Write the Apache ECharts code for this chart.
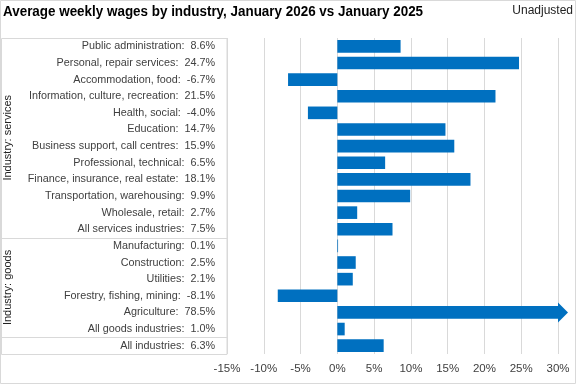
<!DOCTYPE html>
<html><head><meta charset="utf-8">
<script src="https://cdn.jsdelivr.net/npm/echarts@6/dist/echarts.min.js"></script>
<style>html,body{margin:0;padding:0;background:#fff}#c{width:576px;height:384px}</style>
</head><body><div id="c"></div>
<script>
const categories = ["Public administration","Personal, repair services","Accommodation, food","Information, culture, recreation","Health, social","Education","Business support, call centres","Professional, technical","Finance, insurance, real estate","Transportation, warehousing","Wholesale, retail","All services industries","Manufacturing","Construction","Utilities","Forestry, fishing, mining","Agriculture","All goods industries","All industries"];
const values = [8.6,24.7,-6.7,21.5,-4.0,14.7,15.9,6.5,18.1,9.9,2.7,7.5,0.1,2.5,2.1,-8.1,78.5,1.0,6.3];
const groups = [{name:"Industry: services", from:0, to:11},{name:"Industry: goods", from:12, to:17},{name:"", from:18, to:18}];
const xMin = -15, xMax = 30, xStep = 5;
const title = "Average weekly wages by industry, January 2026 vs January 2025";
const note = "Unadjusted";

const chart = echarts.init(document.getElementById('c'), null, {renderer:'canvas'});
const shown = values.map(v => Math.min(v, xMax));
const overflow = [];
values.forEach((v,i)=>{ if (v > xMax) overflow.push({coord:[xMax, categories[i]]}); });
const labelFont = "'Liberation Sans', Arial, sans-serif";
chart.setOption({
  animation:false,
  grid:{left:227,right:18,top:38,bottom:30,containLabel:false},
  xAxis:{type:'value',min:xMin,max:xMax,interval:xStep,
    axisLine:{show:false},axisTick:{show:false},
    axisLabel:{formatter:'{value}%',fontFamily:labelFont,fontSize:11.5,color:'#404040',margin:9},
    splitLine:{show:true,lineStyle:{color:'#d9d9d9',width:1}}},
  yAxis:{type:'category',data:categories,inverse:true,
    axisLine:{show:false},axisTick:{show:false},
    axisLabel:{fontFamily:labelFont,fontSize:10.8,color:'#404040',margin:12,
      formatter:(v,i)=> v + ':  ' + values[i].toFixed(1) + '%'}},
  series:[{type:'bar',data:shown,barCategoryGap:'24%',itemStyle:{color:'#0070C0'},
    markPoint:{silent:true,symbol:'triangle',symbolRotate:-90,symbolSize:[20,10],symbolOffset:[5,0],
      itemStyle:{color:'#0070C0'},label:{show:false},data:overflow}}]
});

// left label box
const n = categories.length;
const py = i => chart.convertToPixel({yAxisIndex:0}, categories[i]);
const step = py(1)-py(0);
const topY = py(0)-step/2, botY = py(n-1)+step/2;
const boxR = chart.convertToPixel({xAxisIndex:0}, xMin);
const g = [];
g.push({type:'rect',shape:{x:0.5,y:0.5,width:575,height:383},style:{fill:null,stroke:'#d9d9d9',lineWidth:1},silent:true});
g.push({type:'text',x:3,y:11.5,scaleX:0.866,style:{text:title,fontFamily:labelFont,fontWeight:'bold',fontSize:15.5,fill:'#000',align:'left',verticalAlign:'middle'},silent:true});
g.push({type:'text',x:573,y:11,style:{text:note,fontFamily:labelFont,fontSize:12,fill:'#222',align:'right',verticalAlign:'middle'},silent:true});
g.push({type:'rect',shape:{x:1.5,y:Math.round(topY)+0.5,width:Math.round(boxR)-1.5,height:Math.round(botY-topY)},style:{fill:null,stroke:'#d9d9d9',lineWidth:1},silent:true});
groups.forEach((gr,k)=>{
  if (k>0){ const y = Math.round(py(gr.from)-step/2)+0.5;
    g.push({type:'line',shape:{x1:1.5,y1:y,x2:boxR,y2:y},style:{stroke:'#d9d9d9',lineWidth:1},silent:true}); }
  if (gr.name){ const cy = (py(gr.from)+py(gr.to))/2;
    g.push({type:'text',x:8,y:cy,rotation:Math.PI/2,style:{text:gr.name,fontFamily:labelFont,fontSize:11,fill:'#222',align:'center',verticalAlign:'middle'},silent:true}); }
});
chart.setOption({graphic:g});
</script></body></html>
